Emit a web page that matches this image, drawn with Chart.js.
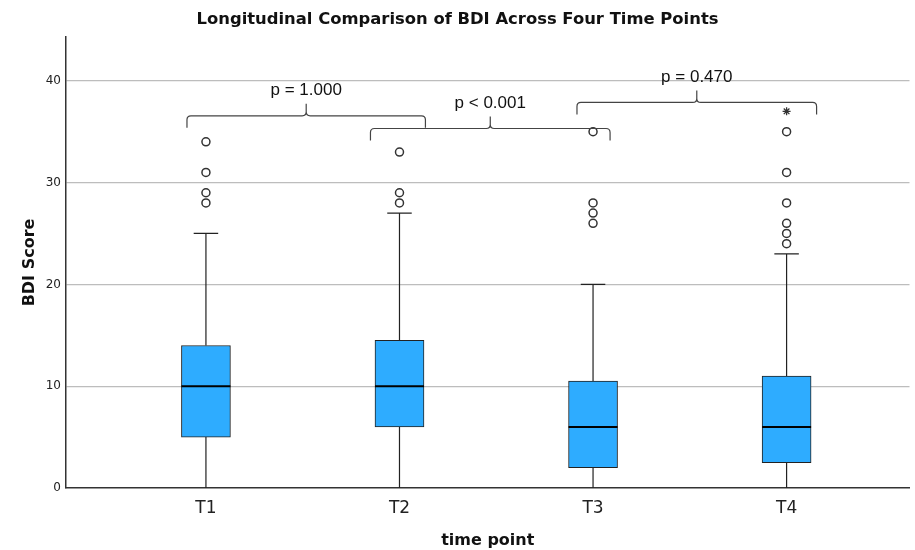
<!DOCTYPE html>
<html>
<head>
<meta charset="utf-8">
<script src="https://cdn.jsdelivr.net/npm/chart.js@4.4.1/dist/chart.umd.min.js"></script>
<style>
  html, body { margin: 0; padding: 0; background: #fff; }
  #wrap { width: 915px; height: 550px; }
</style>
</head>
<body>
<div id="wrap"><canvas id="bdiChart"></canvas></div>
<script>
// box plot summary
var timePoints = ['T1', 'T2', 'T3', 'T4'];
var whiskerLow = [0, 0, 0, 0];
var q1 = [5, 6, 2, 2.5];
var medians = [10, 10, 6, 6];
var q3 = [14, 14.5, 10.5, 11];
var whiskerHigh = [25, 27, 20, 23];
var outliers = [
  [28, 29, 31, 34],
  [28, 29, 33],
  [26, 27, 28, 35],
  [24, 25, 26, 28, 31, 35]
];
var extremes = [[], [], [], [37]];
var yTicks = [0, 10, 20, 30, 40];

// pairwise comparisons
var pLabels = ['p = 1.000', 'p < 0.001', 'p = 0.470'];
var bracketSpans = [[0.902, 2.134], [1.85, 3.088], [2.917, 4.155]];
var bracketLevels = [36.56, 35.31, 37.87];

function toPoints(groups) {
  var pts = [];
  groups.forEach(function (g, i) {
    g.forEach(function (v) { pts.push({x: i + 1, y: v}); });
  });
  return pts;
}

var boxExtras = {
  id: 'boxExtras',
  beforeDatasetsDraw: function (chart) {
    var ctx = chart.ctx, xs = chart.scales.x, ys = chart.scales.y;
    var meta = chart.getDatasetMeta(0);
    ctx.save();
    ctx.strokeStyle = '#222';
    ctx.lineWidth = 1.2;
    timePoints.forEach(function (t, i) {
      var x = xs.getPixelForValue(i + 1);
      var half = meta.data[i].width / 4;
      ctx.beginPath();
      ctx.moveTo(x, ys.getPixelForValue(whiskerLow[i]));
      ctx.lineTo(x, ys.getPixelForValue(q1[i]));
      ctx.moveTo(x, ys.getPixelForValue(q3[i]));
      ctx.lineTo(x, ys.getPixelForValue(whiskerHigh[i]));
      ctx.moveTo(x - half, ys.getPixelForValue(whiskerHigh[i]));
      ctx.lineTo(x + half, ys.getPixelForValue(whiskerHigh[i]));
      ctx.stroke();
    });
    ctx.restore();
  },
  afterDatasetsDraw: function (chart) {
    var ctx = chart.ctx, xs = chart.scales.x, ys = chart.scales.y;
    var meta = chart.getDatasetMeta(0);
    ctx.save();
    // medians
    ctx.strokeStyle = '#000';
    ctx.lineWidth = 2;
    timePoints.forEach(function (t, i) {
      var x = xs.getPixelForValue(i + 1);
      var half = meta.data[i].width / 2;
      var y = ys.getPixelForValue(medians[i]);
      ctx.beginPath();
      ctx.moveTo(x - half, y);
      ctx.lineTo(x + half, y);
      ctx.stroke();
    });
    // brackets
    ctx.strokeStyle = '#444';
    ctx.lineWidth = 1.2;
    ctx.fillStyle = '#111';
    ctx.font = '17px "Liberation Sans", Arial, sans-serif';
    ctx.textAlign = 'center';
    ctx.textBaseline = 'middle';
    var r = 4, depth = 12, notch = 12;
    pLabels.forEach(function (label, k) {
      var xa = xs.getPixelForValue(bracketSpans[k][0]);
      var xb = xs.getPixelForValue(bracketSpans[k][1]);
      var xm = (xa + xb) / 2;
      var y = ys.getPixelForValue(bracketLevels[k]);
      ctx.beginPath();
      ctx.moveTo(xa, y + depth);
      ctx.lineTo(xa, y + r);
      ctx.quadraticCurveTo(xa, y, xa + r, y);
      ctx.lineTo(xm - r, y);
      ctx.quadraticCurveTo(xm, y, xm, y - r);
      ctx.lineTo(xm, y - notch);
      ctx.moveTo(xm, y - r);
      ctx.quadraticCurveTo(xm, y, xm + r, y);
      ctx.lineTo(xb - r, y);
      ctx.quadraticCurveTo(xb, y, xb, y + r);
      ctx.lineTo(xb, y + depth);
      ctx.stroke();
      ctx.fillText(label, xm, y - notch - 13);
    });
    ctx.restore();
  }
};

var ctx = document.getElementById('bdiChart').getContext('2d');
var bdiChart = new Chart(ctx, {
  type: 'bar',
  data: {
    datasets: [{
      data: timePoints.map(function (t, i) { return {x: i + 1, y: [q1[i], q3[i]]}; }),
      backgroundColor: '#2eacff',
      borderColor: '#222',
      borderWidth: 1,
      borderSkipped: false,
      barThickness: 49
    }, {
      type: 'scatter',
      data: toPoints(outliers),
      pointStyle: 'circle',
      pointRadius: 4,
      pointBackgroundColor: '#fff',
      pointBorderColor: '#333',
      pointBorderWidth: 1.5
    }, {
      type: 'scatter',
      data: toPoints(extremes),
      pointStyle: 'star',
      pointRadius: 4,
      pointBorderColor: '#333',
      pointBorderWidth: 1.3
    }]
  },
  options: {
    responsive: true,
    maintainAspectRatio: false,
    animation: false,
    plugins: {
      legend: { display: false },
      tooltip: { enabled: false },
      title: {
        display: true,
        text: 'Longitudinal Comparison of BDI Across Four Time Points',
        color: '#111',
        font: { family: '"DejaVu Sans", sans-serif', size: 16.4, weight: 'bold' },
        padding: { top: 10, bottom: 7.3 }
      }
    },
    scales: {
      x: {
        type: 'linear',
        offset: false,
        min: 0.277,
        max: 4.635,
        afterBuildTicks: function (scale) {
          scale.ticks = timePoints.map(function (t, i) { return {value: i + 1}; });
        },
        afterFit: function (scale) {
          scale.height = 62;
          scale.paddingLeft = 0;
          scale.paddingRight = 0;
        },
        grid: { display: false, drawTicks: false, offset: false },
        border: { display: true, color: '#333', width: 1.5 },
        ticks: {
          padding: 10,
          color: '#222',
          font: { family: '"DejaVu Sans", sans-serif', size: 17 },
          callback: function (v) { return timePoints[v - 1]; }
        },
        title: {
          display: true,
          text: 'time point',
          color: '#111',
          font: { family: '"DejaVu Sans", sans-serif', size: 16, weight: 'bold' },
          padding: { top: 4, bottom: 0 }
        }
      },
      y: {
        min: 0,
        max: 44.3,
        afterBuildTicks: function (scale) {
          scale.ticks = yTicks.map(function (v) { return {value: v}; });
        },
        afterFit: function (scale) { scale.width = 66; },
        grid: {
          drawTicks: false,
          color: function (c) { return c.tick && c.tick.value === 0 ? 'rgba(0,0,0,0)' : '#bdbdbd'; },
          lineWidth: 1.2
        },
        border: { display: true, color: '#333', width: 1.5 },
        ticks: {
          padding: 5,
          color: '#222',
          font: { family: '"DejaVu Sans", sans-serif', size: 12 }
        },
        title: {
          display: true,
          text: 'BDI Score',
          color: '#111',
          font: { family: '"DejaVu Sans", sans-serif', size: 16, weight: 'bold' },
          padding: { top: 20, bottom: 0 }
        }
      }
    }
  },
  plugins: [boxExtras]
});
</script>
</body>
</html>
